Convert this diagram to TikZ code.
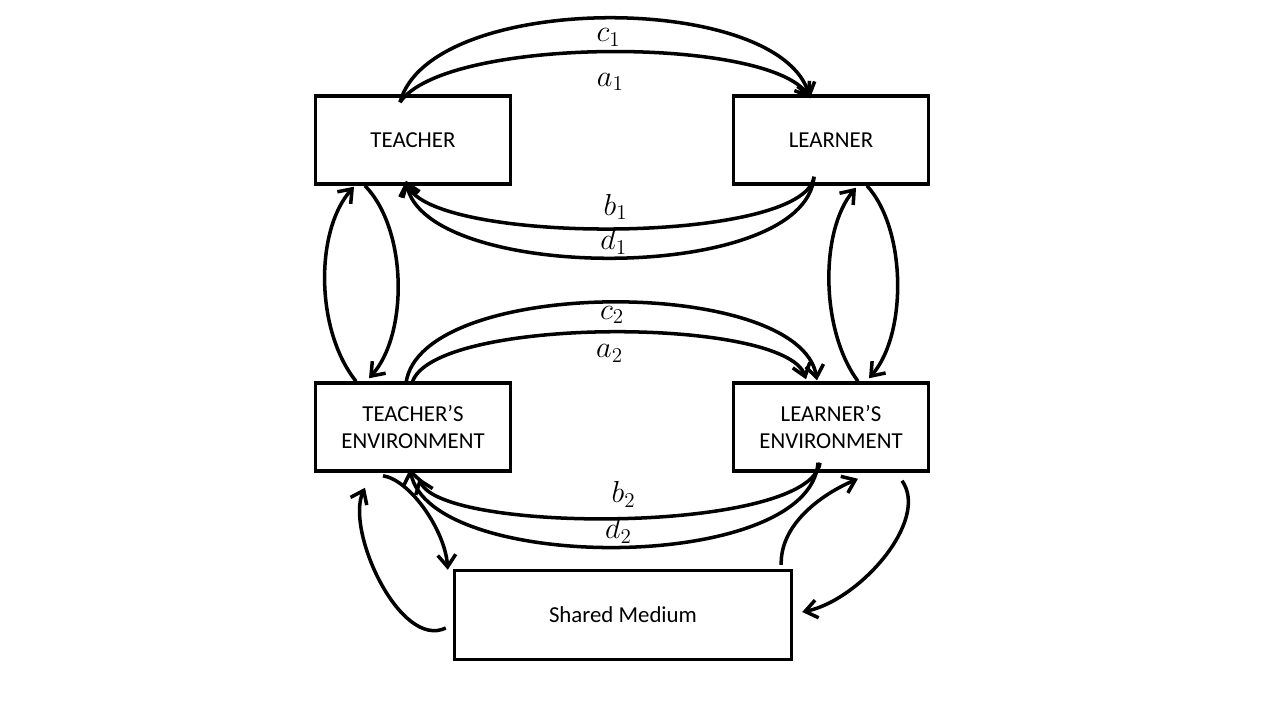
\documentclass[tikz,border=0pt]{standalone}
\usepackage{fontspec}
\setmainfont{Carlito}
\usetikzlibrary{calc,arrows.meta}

\begin{document}
\begin{tikzpicture}[x=0.02cm,y=-0.02cm,>={Straight Barb[length=2.4mm,width=3.6mm]},line width=2pt,
	box/.style={draw,rectangle,line width=2pt,minimum width=3.9cm,minimum height=1.76cm,align=center,font=\fontsize{13}{15}\selectfont},
	lbl/.style={font=\fontsize{18}{20}\selectfont,inner sep=1pt}]
	
	\useasboundingbox (0,0) rectangle (1280,720);
	
	\node [box] (teacher) at (413,140) {TEACHER};
	\node [box] (learner) at (831,140) {LEARNER};
	\node [box] (tenv) at (413,427) {TEACHER’S\\ENVIRONMENT};
	\node [box] (lenv) at (831,427) {LEARNER’S\\ENVIRONMENT};
	\node [box,minimum width=6.74cm,minimum height=1.78cm] (medium) at (623,615) {Shared Medium};
	
	% teacher <-> learner
	\draw [->] ($(teacher.north)+(-13,8)$) .. controls (430,-9) and (780,-9) .. ($(learner.north)+(-21,4)$) node [lbl,midway,below=4pt,xshift=2pt] {$c_1$};
	\draw [->] ($(teacher.north)+(-13,8)$) .. controls (445,36) and (770,36) .. ($(learner.north)+(-21,4)$) node [lbl,midway,below=10pt,xshift=2pt] {$a_1$};
	\draw [->] ($(learner.south)+(-17,-9)$) .. controls (805,245) and (430,245) .. ($(teacher.south)+(-7,-5)$) node [lbl,midway,above=3pt] {$b_1$};
	\draw [->] ($(learner.south)+(-17,-9)$) .. controls (805,285) and (425,283) .. ($(teacher.south)+(-7,-5)$) node [lbl,midway,above=0pt] {$d_1$};
	
	% vertical loops
	\draw [->] ($(tenv.north)+(-57,0)$) .. controls (315,330) and (315,230) .. ($(teacher.south)+(-59,1)$);
	\draw [->] ($(teacher.south)+(-48,0)$) .. controls (408,230) and (408,335) .. ($(tenv.north)+(-44,-3)$);
	\draw [->] ($(lenv.north)+(27,0)$) .. controls (820,330) and (820,230) .. ($(learner.south)+(25,2)$);
	\draw [->] ($(learner.south)+(36,0)$) .. controls (907,230) and (907,335) .. ($(lenv.north)+(38,-3)$);
	
	% environments
	\draw [->] ($(tenv.north)+(-7,2)$) .. controls (420,276) and (800,276) .. ($(lenv.north)+(-14,-1)$) node [lbl,midway,below=0pt,xshift=1pt] {$c_2$};
	\draw [->] ($(tenv.north)+(-1,2)$) .. controls (430,316) and (785,316) .. ($(lenv.north)+(-25,-2)$) node [lbl,midway,below=5pt,xshift=1pt] {$a_2$};
	\draw [->] ($(lenv.south)+(-11,-10)$) .. controls (810,534) and (440,534) .. ($(tenv.south)+(6,5)$) node [lbl,midway,above=4pt] {$b_2$};
	\draw [->] ($(lenv.south)+(-13,-10)$) .. controls (810,574) and (430,574) .. ($(tenv.south)+(-3,-4)$) node [lbl,midway,above=0pt] {$d_2$};
	
	% shared medium
	\draw [->] ($(tenv.south)+(-30,3)$) .. controls (410,480) and (445,530) .. ($(medium.north west)+(-5,1)$);
	\draw [->] ($(medium.west)+(-7,13)$) .. controls (400,650) and (345,530) .. ($(tenv.south)+(-48,15)$);
	\draw [->] ($(medium.north east)+(-12,-4)$) .. controls (780,525) and (820,495) .. ($(lenv.south)+(27,6)$);
	\draw [->] ($(lenv.south)+(71,8)$) .. controls (930,520) and (860,600) .. ($(medium.east)+(9,-3)$);
	
\end{tikzpicture}
\end{document}
